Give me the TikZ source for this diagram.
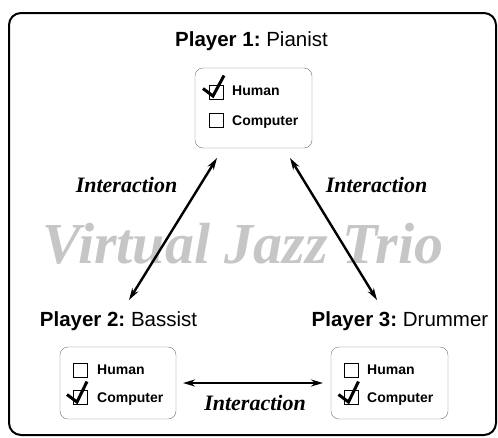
\documentclass[tikz,border=0pt]{standalone}
\usepackage{fontspec}
\setmainfont{Liberation Serif}
\setsansfont{Liberation Sans}
\usetikzlibrary{arrows.meta}

\begin{document}
\begin{tikzpicture}[x=1pt,y=-1pt,
    panel/.style={draw=black!55, rounded corners=8pt, minimum width=117pt, minimum height=72pt, inner sep=0pt},
    tickbox/.style={draw, line width=0.6pt, minimum size=14pt, inner sep=0pt},
    choice/.style={anchor=base west, inner sep=0pt, font=\sffamily\bfseries\fontsize{14}{16}\selectfont},
    player/.style={anchor=base, inner sep=0pt, font=\sffamily\fontsize{20.5}{24}\selectfont},
    talk/.style={anchor=base, inner sep=0pt, font=\bfseries\itshape\fontsize{22}{26}\selectfont},
    link/.style={{Stealth[length=12pt,width=7pt]}-{Stealth[length=12pt,width=7pt]}, line width=2.4pt},
    tick/.style={line width=3pt}]
  \useasboundingbox (0,0) rectangle (498,437);
  \draw[line width=2pt, rounded corners=12pt] (9,13) rectangle (496,435);

  % title behind the arrows
  \node[anchor=base, inner sep=0pt, text=gray!45, font=\bfseries\itshape\fontsize{58}{64}\selectfont] (title) at (243,263) {Virtual Jazz Trio};

  % players
  \node[player] (pl1) at (251.5,46) {\textbf{Player 1:}\ Pianist};
  \node[player] (pl2) at (118.5,326) {\textbf{Player 2:}\ Bassist};
  \node[player] (pl3) at (400,326) {\textbf{Player 3:}\ Drummer};

  \node[panel, minimum height=80pt] (box1) at (253.5,108) {};
  \node[panel, minimum width=116pt] (box2) at (118,383) {};
  \node[panel] (box3) at (389.5,383) {};

  % check boxes
  \node[tickbox] (h1) at (216,92.5) {};
  \node[tickbox] (c1) at (216,120) {};
  \node[choice] (h1t) at (232,95) {Human};
  \node[choice] (c1t) at (232,125) {Computer};

  \node[tickbox] (h2) at (80,370) {};
  \node[tickbox] (c2) at (80,397.5) {};
  \node[choice] (h2t) at (97,374) {Human};
  \node[choice] (c2t) at (97,402) {Computer};

  \node[tickbox] (h3) at (351.5,370) {};
  \node[tickbox] (c3) at (351.5,397.5) {};
  \node[choice] (h3t) at (367,374) {Human};
  \node[choice] (c3t) at (367,402) {Computer};

  \draw[tick] (h1) ++(-13,-4) -- ++(10,7.5) -- ++(11,-20.5);
  \draw[tick] (c2) ++(-13,-3) -- ++(10,7.5) -- ++(10,-20.5);
  \draw[tick] (c3) ++(-13,-3) -- ++(10,7.5) -- ++(10,-20.5);

  % interaction arrows
  \coordinate (a1) at (217,158);
  \coordinate (a2) at (129,300);
  \coordinate (b1) at (290,158);
  \coordinate (b2) at (377,300);
  \coordinate (d2) at (183,383);
  \coordinate (d3) at (323,383);
  \draw[link] (a1) -- (a2);
  \draw[link] (b1) -- (b2);
  \draw[link] (d2) -- (d3);

  \node[talk] (i12) at (126.5,192) {Interaction};
  \node[talk] (i13) at (376.5,192) {Interaction};
  \node[talk] (i23) at (255,410) {Interaction};
\end{tikzpicture}
\end{document}
